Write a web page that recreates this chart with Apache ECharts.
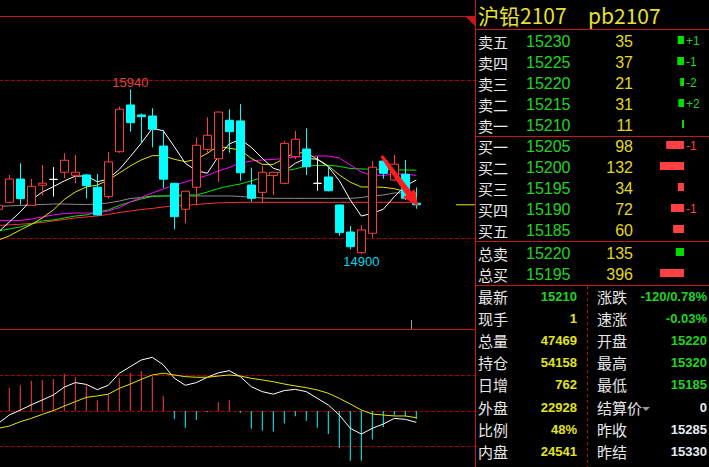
<!DOCTYPE html>
<html><head><meta charset="utf-8">
<script src="https://cdn.jsdelivr.net/npm/echarts@6/dist/echarts.min.js"></script>
<style>html,body{margin:0;padding:0;background:#000;overflow:hidden}#c{width:709px;height:467px}</style>
</head><body><div id="c"></div>
<script>
// ---------- K-line data (one entry per bar, oldest first) ----------
const slotCount = 44;
const categories = Array.from({length: slotCount}, (_, i) => 'K' + (i + 1));
const opens  = [15182,15226,15373,15207,15334,15371,15416,15397,15399,15321,15262,15546,15842,15779,15772,15582,15346,15182,15321,15561,15502,15745,15741,15335,15289,15395,15346,15515,15563,15346,15386,15209,15038,14907,15030,15487,15367,15403,15220];
const closes = [15207,15373,15249,15327,15347,15371,15492,15416,15331,15146,15482,15815,15730,15768,15688,15372,15135,15296,15587,15650,15797,15673,15413,15251,15416,15416,15599,15625,15451,15346,15299,15034,14945,15051,15448,15409,15467,15251,15210];
const lows   = [15175,15220,15210,15207,15268,15262,15378,15346,15251,15140,15249,15540,15673,15600,15574,15315,15055,15093,15207,15540,15356,15540,15363,15230,15220,15272,15340,15500,15399,15299,15295,15015,14928,14900,15002,15375,15360,15240,15185];
const highs  = [15212,15399,15473,15373,15462,15449,15536,15525,15405,15405,15544,15832,15940,15789,15821,15684,15350,15300,15637,15764,15800,15815,15848,15445,15456,15420,15614,15677,15694,15515,15456,15212,15076,15082,15487,15490,15525,15494,15320];
// moving averages
const maWhite  = [15038,15101,15165,15241,15291,15325,15361,15392,15392,15356,15373,15434,15515,15600,15694,15679,15578,15473,15426,15410,15515,15595,15625,15574,15504,15441,15420,15473,15504,15498,15451,15363,15241,15139,15156,15182,15261,15329,15367];
const maYellow = [14987,15013,15051,15085,15127,15177,15244,15291,15323,15335,15367,15411,15456,15494,15521,15521,15498,15483,15498,15536,15582,15568,15557,15504,15466,15466,15504,15542,15536,15500,15456,15399,15353,15323,15323,15321,15312,15293,15272];
const maMagenta= [15110,15110,15111,15120,15133,15146,15155,15158,15158,15158,15171,15193,15228,15257,15285,15310,15335,15354,15377,15396,15424,15446,15475,15487,15494,15497,15504,15513,15516,15519,15519,15506,15462,15418,15396,15396,15405,15405,15396];
const maGreen  = [15044,15057,15070,15089,15108,15114,15127,15139,15146,15165,15177,15206,15228,15247,15263,15266,15269,15272,15272,15291,15313,15329,15342,15361,15383,15405,15424,15437,15456,15459,15460,15453,15440,15437,15435,15434,15432,15430,15430];
const maGray   = [15199,15203,15206,15209,15212,15215,15215,15213,15212,15215,15222,15234,15250,15256,15266,15266,15266,15266,15266,15266,15266,15266,15263,15258,15253,15251,15251,15251,15251,15251,15251,15251,15251,15256,15266,15272,15285,15286,15286];
const maRed    = [15080,15083,15087,15092,15098,15108,15117,15127,15133,15139,15149,15161,15171,15180,15187,15196,15203,15206,15212,15218,15222,15224,15226,15226,15226,15226,15226,15226,15226,15226,15226,15226,15226,15226,15226,15226,15226,15226,15226];
// price grid lines of the K-line pane and its visible range
const priceGridLines = [15000, 16000];
const priceAxisMin = 14424;
const priceAxisMax = 16405;
// MACD
const macdHist = [22,26,29,34,35,36,42,38,29,12,19,37,43,45,39,17,-9,-19,-10,-1,10,12,-2,-20,-22,-23,-14,-6,-11,-19,-26,-42,-56,-56,-32,-18,-5,-6,-9];
const macdDif  = [-14,-4.5,1,7,12.4,18,27,32,30,24,29,42.5,50,57.5,60.5,52,37,29,32,38,43,45.4,38.7,27.4,21.8,19,23,24.4,21.8,14.3,6.8,-4.5,-19.5,-26,-19.5,-14.7,-8.3,-9.4,-12.8];
const macdDea  = [-19.5,-17,-12,-8.3,-3.8,0.4,5.6,10.5,15.4,17,19,25.5,30.4,35.7,40.6,42.5,40.6,38.7,38,38,39.4,40.6,39.4,36.8,35,33,30.4,28.2,26.3,23.7,20,14.3,7.9,1.1,-3.4,-4.5,-5.6,-5.6,-7.5];
const lastPrice = 15210;

// ---------- order book ----------
const titleName = '沪铅2107';
const titleCode = 'pb2107';
const sellLabels  = ['卖五','卖四','卖三','卖二','卖一'];
const sellPrices  = [15230,15225,15220,15215,15210];
const sellVols    = [35,37,21,31,11];
const sellChanges = ['+1','-1','-2','+2',''];
const buyLabels   = ['买一','买二','买三','买四','买五'];
const buyPrices   = [15205,15200,15195,15190,15185];
const buyVols     = [98,132,34,72,60];
const buyChanges  = ['-1','','','-1',''];
const totalLabels = ['总卖','总买'];
const totalPrices = [15220,15195];
const totalVols   = [135,396];
// quote info
const infoLabelsL = ['最新','现手','总量','持仓','日增','外盘','比例','内盘'];
const infoValuesL = ['15210','1','47469','54158','762','22928','48%','24541'];
const infoLabelsR = ['涨跌','速涨','开盘','最高','最低','结算价','昨收','昨结'];
const infoValuesR = ['-120/0.78%','-0.03%','15220','15320','15185','0','15285','15330'];

// ---------- styles ----------
const CJK = "'Noto Sans CJK SC', sans-serif";
const NUM = "'Liberation Sans', Arial, sans-serif";
const C = {
  up:'#ff3c3c', down:'#00ffff', grid:'#a80000', frame:'#c41818',
  green:'#22d422', yellow:'#e2d820', yellow2:'#e4e420', white:'#e8e8e8', white2:'#e6ecf4', red:'#ff4040'
};
const infoColorsL = [C.green, C.yellow2, C.yellow2, C.yellow2, C.yellow2, C.yellow2, C.yellow2, C.yellow2];
const infoColorsR = [C.green, C.green, C.green, C.green, C.green, C.white2, C.white2, C.white2];

const chart = echarts.init(document.getElementById('c'), null, {renderer:'svg', width:709, height:467});
const candleData = opens.map((o, i) => [o, closes[i], lows[i], highs[i]]);

function maLine(data, color) {
  return {type:'line', xAxisIndex:0, yAxisIndex:0, data, symbol:'none', clip:false, silent:true,
    lineStyle:{color, width:1}, z:3};
}
const hiddenCat = {type:'category', data:categories, boundaryGap:true, axisLine:{show:false}, axisTick:{show:false}, axisLabel:{show:false}, splitLine:{show:false}};
const dashedStyle = {color:C.grid, type:[4,2], width:1};
const gridBase = {containLabel:false, outerBoundsMode:'none'};

const option = {
  backgroundColor:'#000',
  animation:false,
  grid:[
    Object.assign({left:-7.2, top:16, width:slotCount*11, height:313}, gridBase),
    Object.assign({left:-7.2, top:375.5, width:slotCount*11, height:71}, gridBase),
    Object.assign({left:624, top:29.5, width:60, height:105}, gridBase),
    Object.assign({left:624, top:134.5, width:60, height:105}, gridBase),
    Object.assign({left:624, top:241.5, width:60, height:42}, gridBase)
  ],
  xAxis:[
    Object.assign({gridIndex:0}, hiddenCat),
    Object.assign({gridIndex:1}, hiddenCat),
    {type:'value', gridIndex:2, min:0, max:330, inverse:true, show:false},
    {type:'value', gridIndex:3, min:0, max:330, inverse:true, show:false},
    {type:'value', gridIndex:4, min:0, max:990, inverse:true, show:false}
  ],
  yAxis:[
    {type:'value', gridIndex:0, min:priceAxisMin, max:priceAxisMax, axisLine:{show:false}, axisTick:{show:false}, axisLabel:{show:false}, splitLine:{show:false}},
    {type:'value', gridIndex:1, min:-40, max:40, interval:40, axisLine:{show:false}, axisTick:{show:false}, axisLabel:{show:false}, splitLine:{show:true, lineStyle:dashedStyle}},
    {type:'category', gridIndex:2, data:sellLabels, inverse:true, show:false},
    {type:'category', gridIndex:3, data:buyLabels, inverse:true, show:false},
    {type:'category', gridIndex:4, data:totalLabels, inverse:true, show:false}
  ],
  series:[
    maLine(maRed, '#ff3030'),
    maLine(maGray, '#8c8c8c'),
    maLine(maGreen, '#00e600'),
    maLine(maMagenta, '#ff00ff'),
    maLine(maYellow, '#e6e600'),
    maLine(maWhite, '#ffffff'),
    {
      type:'candlestick', xAxisIndex:0, yAxisIndex:0, data:candleData, barWidth:8, clip:false, z:4, silent:true,
      itemStyle:{color:'#000', color0:C.down, borderColor:C.up, borderColor0:C.down, borderColorDoji:'#ffffff', borderWidth:1},
      markLine:{
        silent:true, symbol:['none','none'], animation:false, z:1,
        label:{show:false},
        lineStyle:dashedStyle,
        emphasis:{disabled:true},
        data:priceGridLines.map(v => ({yAxis:v}))
      },
      markPoint:{
        symbol:'circle', symbolSize:0, silent:true, animation:false,
        itemStyle:{color:'rgba(0,0,0,0)'},
        data:[
          {type:'max', valueDim:'highest', label:{show:true, position:'top', distance:0, color:'#e04040', fontSize:13, fontFamily:NUM, formatter:p => String(p.value)}},
          {type:'min', valueDim:'lowest', label:{show:true, position:'bottom', distance:1, color:'#00d8e8', fontSize:13, fontFamily:NUM, formatter:p => String(p.value)}}
        ]
      }
    },
    {
      type:'bar', xAxisIndex:1, yAxisIndex:1, data:macdHist, barWidth:1, clip:false, silent:true,
      itemStyle:{color:p => (p.value >= 0 ? C.red : C.down)}
    },
    {type:'line', xAxisIndex:1, yAxisIndex:1, data:macdDif, symbol:'none', clip:false, silent:true, lineStyle:{color:'#ffffff', width:1}},
    {type:'line', xAxisIndex:1, yAxisIndex:1, data:macdDea, symbol:'none', clip:false, silent:true, lineStyle:{color:'#e6e600', width:1}},
    {type:'bar', xAxisIndex:2, yAxisIndex:2, data:sellVols, barWidth:8, silent:true, itemStyle:{color:'#00dd00'}},
    {type:'bar', xAxisIndex:3, yAxisIndex:3, data:buyVols, barWidth:8, silent:true, itemStyle:{color:C.red}},
    {type:'bar', xAxisIndex:4, yAxisIndex:4, data:totalVols, barWidth:8, silent:true,
      itemStyle:{color:p => (p.dataIndex === 0 ? '#00dd00' : C.red)}}
  ]
};
chart.setOption(option);

// ---------- decorations / text ----------
function txt(x, y, text, fill, font, align) {
  align = align || 'left';
  return {type:'text', silent:true, z:100, style:{x, y, text, fill, font, textAlign:align, align, textVerticalAlign:'middle', verticalAlign:'middle'}};
}
function line(x1, y1, x2, y2, stroke, dash) {
  return {type:'line', silent:true, z:90, shape:{x1, y1, x2, y2}, style:{stroke, lineWidth:1, lineDash:dash || null}};
}
const g = [];
// frames
g.push(line(0, 16.5, 466, 16.5, C.frame));
g.push({type:'polygon', silent:true, z:90, shape:{points:[[465,16],[475,16],[475,26]]}, style:{fill:C.frame}});
g.push(line(475.5, 0, 475.5, 467, C.frame));
g.push(line(0, 329.5, 475, 329.5, C.frame));
g.push(line(475, 29.5, 709, 29.5, C.frame));
g.push(line(475, 136.5, 709, 136.5, C.frame));
g.push(line(475, 241.5, 709, 241.5, C.frame));
g.push(line(475, 285.5, 709, 285.5, C.frame));
g.push(line(587.5, 286, 587.5, 467, '#b01010', [3,3]));
g.push(line(411.5, 320, 411.5, 329, '#a0a0a0'));
// last price marker
const yLast = chart.convertToPixel({yAxisIndex:0}, lastPrice);
g.push(line(456, yLast, 475, yLast, '#e6e600'));
// annotation arrow
g.push({type:'polygon', silent:true, z:95, shape:{points:[[382.9,155.1],[411.4,191.6],[414.6,189.3],[418.3,206.5],[403.0,197.3],[406.2,195.2],[380.5,156.9]]}, style:{fill:'#ff1c1c'}});
// title
g.push(txt(478, 15, titleName, '#e8e030', '21px ' + CJK));
g.push(txt(588, 15, titleCode, '#e8e030', '21px ' + CJK));
// order book rows
function bookRows(labels, prices, vols, changes, top, chColor) {
  labels.forEach((lb, i) => {
    const y = top + 21 * (i + 0.5) + 1;
    g.push(txt(478, y, lb, C.white, '15px ' + CJK));
    g.push(txt(526, y, String(prices[i]), C.green, '16px ' + NUM));
    g.push(txt(633, y, String(vols[i]), C.yellow, '16px ' + NUM, 'right'));
    if (changes && changes[i]) g.push(txt(686, y, changes[i], chColor, '12px ' + NUM));
  });
}
bookRows(sellLabels, sellPrices, sellVols, sellChanges, 29.5, '#22d422');
bookRows(buyLabels, buyPrices, buyVols, buyChanges, 134.5, C.red);
bookRows(totalLabels, totalPrices, totalVols, null, 241.5, C.red);
// quote info
infoLabelsL.forEach((lb, i) => {
  const y = 296.5 + 22.1 * i;
  g.push(txt(478, y, lb, C.white, '15px ' + CJK));
  g.push(txt(577, y, infoValuesL[i], infoColorsL[i], 'bold 13px ' + NUM, 'right'));
  g.push(txt(597, y, infoLabelsR[i], C.white, '15px ' + CJK));
  g.push(txt(707, y, infoValuesR[i], infoColorsR[i], 'bold 13px ' + NUM, 'right'));
});
g.push({type:'polygon', silent:true, z:100, shape:{points:[[642,407],[650,407],[646,411]]}, style:{fill:'#9a9a9a'}});

chart.setOption({graphic:{elements:g}});
</script></body></html>
